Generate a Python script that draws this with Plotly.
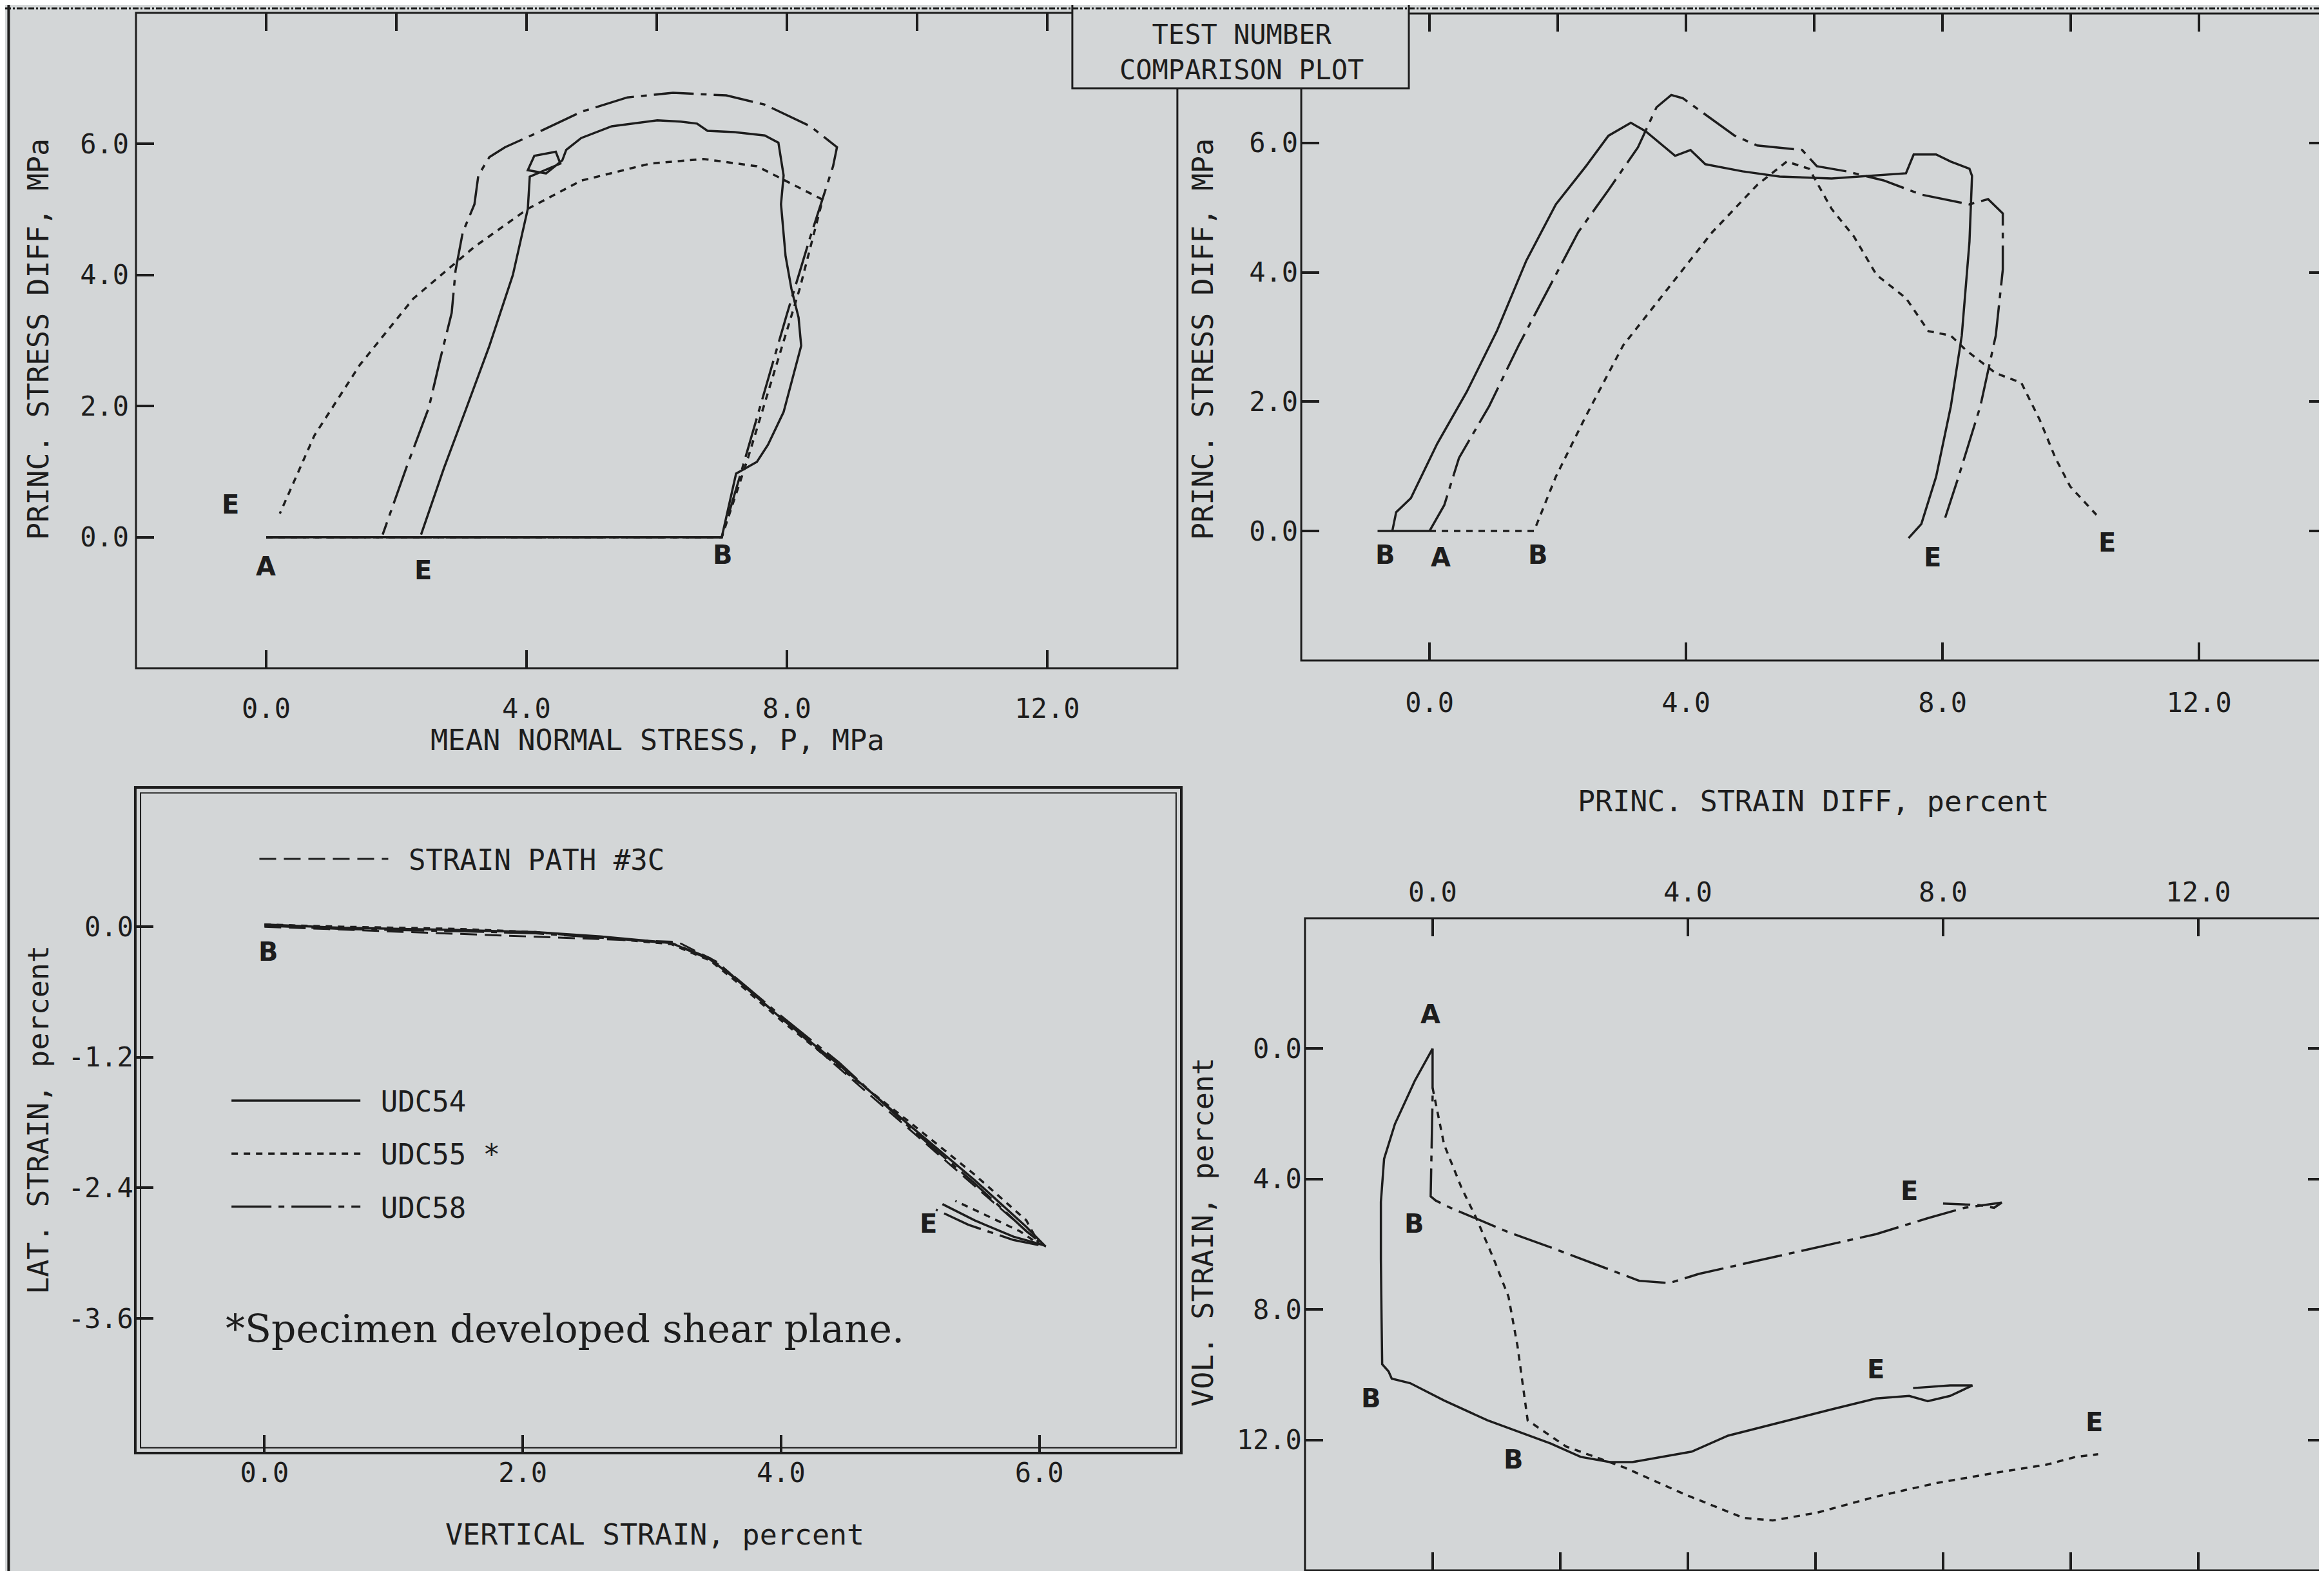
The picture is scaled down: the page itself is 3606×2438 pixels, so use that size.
import plotly.graph_objects as go

# ---------------- data ----------------
# Top-left: principal stress difference vs mean normal stress (MPa)
tl54_x = [0.0, 7.0, 7.22, 7.54, 7.71, 7.95, 8.22, 8.18, 8.07, 7.98, 7.91, 7.95, 7.87, 7.66, 7.19, 6.78, 6.62, 6.37,
          6.01, 5.31, 4.84, 4.61, 4.55, 4.3, 4.02, 4.12, 4.45, 4.52, 4.05, 4.02, 3.79, 3.43, 3.08, 2.73, 2.38]
tl54_y = [0.0, 0.0, 0.97, 1.15, 1.41, 1.91, 2.92, 3.35, 3.79, 4.29, 5.08, 5.52, 6.02, 6.13, 6.18, 6.20, 6.31, 6.34,
          6.36, 6.27, 6.09, 5.91, 5.75, 5.55, 5.6, 5.82, 5.88, 5.7, 5.5, 5.01, 4.0, 2.92, 1.98, 1.05, 0.04]
tl55_x = [0.0, 7.0, 7.4, 7.8, 8.2, 8.55, 8.12, 7.54, 6.72, 5.9, 4.84, 4.02, 3.2, 2.26, 1.44, 0.74, 0.21]
tl55_y = [0.0, 0.0, 1.2, 2.5, 3.8, 5.15, 5.37, 5.66, 5.77, 5.7, 5.44, 5.01, 4.43, 3.64, 2.63, 1.55, 0.36]
tl58_x = [0.0, 7.0, 7.3, 7.65, 8.0, 8.35, 8.71, 8.77, 8.36, 7.66, 7.07, 6.25, 5.55, 4.84, 4.14, 3.67, 3.43, 3.26,
          3.2, 3.02, 2.91, 2.85, 2.67, 2.5, 2.15, 1.79]
tl58_y = [0.0, 0.0, 1.0, 2.2, 3.4, 4.55, 5.66, 5.95, 6.27, 6.6, 6.74, 6.78, 6.71, 6.49, 6.16, 5.95, 5.8, 5.52,
          5.08, 4.65, 4.07, 3.42, 2.7, 1.98, 1.05, 0.04]

# Top-right: principal stress difference (MPa) vs principal strain difference (percent)
tr54_x = [0.0, -0.81, -0.58, -0.52, -0.29, 0.12, 0.58, 1.05, 1.51, 1.97, 2.44, 2.79, 3.14, 3.37, 3.83, 4.07, 4.3,
          4.88, 5.46, 6.27, 7.43, 7.55, 7.9, 8.13, 8.42, 8.46, 8.42, 8.3, 8.13, 7.9, 7.67, 7.47]
tr54_y = [0.0, 0.0, 0.0, 0.29, 0.51, 1.35, 2.15, 3.09, 4.18, 5.05, 5.64, 6.11, 6.31, 6.18, 5.8, 5.89, 5.67,
          5.56, 5.48, 5.45, 5.53, 5.82, 5.82, 5.71, 5.6, 5.49, 4.47, 3.02, 1.93, 0.84, 0.11, -0.11]
tr55_x = [0.0, 1.63, 1.97, 2.44, 3.02, 3.72, 4.41, 5.11, 5.57, 5.92, 6.27, 6.62, 6.97, 7.43, 7.78, 8.13, 8.36,
          8.83, 9.23, 9.52, 9.76, 9.99, 10.4]
tr55_y = [0.0, 0.0, 0.84, 1.78, 2.87, 3.75, 4.62, 5.35, 5.71, 5.6, 4.98, 4.55, 3.96, 3.6, 3.09, 3.02, 2.8,
          2.44, 2.29, 1.71, 1.13, 0.69, 0.25]
tr58_x = [0.0, 0.23, 0.46, 0.93, 1.39, 1.86, 2.32, 2.79, 3.25, 3.54, 3.77, 3.95, 4.41, 4.76, 5.11, 5.81, 6.04,
          6.5, 7.08, 7.67, 8.42, 8.71, 8.94, 8.94, 8.83, 8.59, 8.25, 8.01]
tr58_y = [0.0, 0.4, 1.13, 1.93, 2.87, 3.75, 4.62, 5.27, 5.93, 6.55, 6.74, 6.69, 6.36, 6.11, 5.96, 5.89, 5.64,
          5.56, 5.42, 5.2, 5.05, 5.13, 4.91, 4.04, 3.02, 1.93, 0.84, 0.11]

# Bottom-left: lateral strain vs vertical strain (percent)
bl_path_x = [0.0, 3.2, 3.5, 6.0]
bl_path_y = [0.0, -0.14, -0.32, -2.9]
bl54_x = [0.0, 0.6, 1.5, 2.1, 2.6, 3.15, 3.45, 3.65, 4.0, 4.45, 5.0, 5.5, 5.9, 6.04, 5.8, 5.5, 5.25]
bl54_y = [0.02, -0.01, -0.03, -0.05, -0.09, -0.15, -0.30, -0.48, -0.84, -1.27, -1.83, -2.33, -2.76, -2.93, -2.85, -2.70, -2.55]
bl55_x = [0.0, 0.6, 1.5, 2.1, 2.6, 3.15, 3.45, 3.65, 4.0, 4.45, 5.0, 5.5, 5.9, 6.0, 5.85, 5.6, 5.35]
bl55_y = [0.02, 0.0, -0.02, -0.05, -0.10, -0.16, -0.31, -0.50, -0.86, -1.29, -1.80, -2.28, -2.70, -2.92, -2.80, -2.66, -2.52]
bl58_x = [0.0, 0.6, 1.5, 2.1, 2.6, 3.15, 3.45, 3.65, 4.0, 4.45, 5.0, 5.5, 5.9, 6.05, 5.8, 5.45, 5.2]
bl58_y = [0.01, -0.02, -0.04, -0.06, -0.10, -0.15, -0.29, -0.47, -0.82, -1.25, -1.85, -2.36, -2.80, -2.94, -2.88, -2.74, -2.60]

# Bottom-right: volumetric strain vs principal strain difference (percent)
br54_x = [0.0, -0.28, -0.59, -0.76, -0.81, -0.81, -0.8, -0.79, -0.69, -0.64, -0.35, 0.18, 0.86, 1.85, 2.32, 2.78,
          3.13, 3.59, 4.06, 4.63, 5.45, 6.26, 6.95, 7.47, 7.76, 8.11, 8.46, 8.11, 7.53]
br54_y = [0.0, 0.99, 2.31, 3.38, 4.7, 6.46, 8.22, 9.68, 9.9, 10.12, 10.26, 10.79, 11.4, 12.11, 12.52, 12.68,
          12.68, 12.52, 12.36, 11.87, 11.46, 11.06, 10.73, 10.65, 10.81, 10.65, 10.33, 10.33, 10.41]
br55_x = [0.0, 0.18, 0.45, 0.69, 0.96, 1.19, 1.33, 1.49, 2.09, 3.01, 3.94, 4.87, 5.33, 6.03, 6.95, 7.88, 8.81,
          9.62, 10.08, 10.43]
br55_y = [1.2, 2.94, 4.25, 5.22, 6.46, 7.61, 9.11, 11.4, 12.2, 12.85, 13.66, 14.39, 14.47, 14.23, 13.74, 13.33, 13.01,
          12.76, 12.52, 12.44]
br58_x = [0.0, 0.0, -0.03, 0.05, 0.28, 1.19, 1.87, 2.64, 3.24, 3.71, 4.17, 5.1, 6.03, 6.95, 7.76, 8.34, 8.92,
          8.8, 8.57, 8.0]
br58_y = [0.0, 1.5, 4.53, 4.66, 4.88, 5.63, 6.11, 6.68, 7.12, 7.19, 6.91, 6.5, 6.1, 5.69, 5.2, 4.88, 4.72,
          4.88, 4.8, 4.75]

# point labels (text, x, y) per panel
tl_labels = [("E", -0.55, 0.5), ("A", 0.0, -0.45), ("E", 2.41, -0.5), ("B", 7.02, -0.27)]
tr_labels = [("B", -0.69, -0.37), ("A", 0.18, -0.41), ("B", 1.69, -0.37), ("E", 7.84, -0.41), ("E", 10.57, -0.18)]
bl_labels = [("B", 0.03, -0.23), ("E", 5.14, -2.73)]
br_labels = [("A", -0.03, -1.06), ("B", -0.29, 5.37), ("B", -0.96, 10.73), ("B", 1.27, 12.6),
             ("E", 7.47, 4.36), ("E", 6.95, 9.84), ("E", 10.37, 11.46)]

series_names = ["UDC54", "UDC55 *", "UDC58"]
path_name = "STRAIN PATH #3C"
tick_major = [0, 4, 8, 12]
tick_minor = [0, 2, 4, 6, 8, 10, 12]
tick_stress = [0, 2, 4, 6]
tick_vol = [0, 4, 8, 12]
tick_bl_x = [0, 2, 4, 6]
tick_bl_y = [0, -1.2, -2.4, -3.6]
tick_bl_y_text = ["0.0", "-1.2", "-2.4", "-3.6"]

# ---------------- style ----------------
BG = "#d3d6d7"
INK = "#1d1d1d"
MONO = "DejaVu Sans Mono"
W, H = 3606, 2438
LW = 3.5
DASH = {"UDC54": "solid", "UDC55 *": "10px,9px", "UDC58": "62px,11px,9px,11px"}

fig = go.Figure()


def add(xs, ys, name, xa, ya, legend=False, group=None):
    fig.add_trace(go.Scatter(
        x=xs, y=ys, mode="lines", name=" " + name, xaxis=xa, yaxis=ya,
        line=dict(color=INK, width=LW, dash=DASH[name]),
        showlegend=legend, legendgroup=group, hoverinfo="skip"))


# every panel keeps traces on its main axis pair; some traces also go through the
# overlaying axes (same ranges, so same geometry) that carry the extra tick rows
add(tl54_x, tl54_y, series_names[0], "x", "y")
add(tl55_x, tl55_y, series_names[1], "x5", "y")
add(tl58_x, tl58_y, series_names[2], "x", "y")
add(tr54_x, tr54_y, series_names[0], "x2", "y2")
add(tr55_x, tr55_y, series_names[1], "x6", "y2")
add(tr58_x, tr58_y, series_names[2], "x2", "y6")
add(br54_x, br54_y, series_names[0], "x4", "y4")
add(br55_x, br55_y, series_names[1], "x7", "y4")
add(br58_x, br58_y, series_names[2], "x4", "y7")
add(bl54_x, bl54_y, series_names[0], "x3", "y3", True, "g54")
add(bl55_x, bl55_y, series_names[1], "x3", "y3", True, "g55")
add(bl58_x, bl58_y, series_names[2], "x3", "y3", True, "g58")
fig.add_trace(go.Scatter(
    x=bl_path_x, y=bl_path_y, mode="lines", name=" " + path_name, xaxis="x3", yaxis="y3",
    line=dict(color=INK, width=3, dash="26px,12px"), showlegend=True, legend="legend2",
    hoverinfo="skip"))

TICKFONT = dict(family=MONO, size=42, color=INK)


def ax(**kw):
    d = dict(showgrid=False, zeroline=False, showline=False, ticks="inside", ticklen=28, tickwidth=4,
             tickcolor=INK, tickfont=TICKFONT, tickformat=".1f", layer="above traces")
    d.update(kw)
    return d


R_X = [-2, 14]
R_S = [-2, 8]
R_V = [16, -4]

fig.update_layout(
    width=W, height=H, margin=dict(l=0, r=0, t=0, b=0),
    paper_bgcolor=BG, plot_bgcolor="rgba(0,0,0,0)",
    # top-left
    xaxis=ax(domain=[0.0563, 0.5044], range=R_X, anchor="y", side="top", tickvals=tick_minor,
             showticklabels=False),
    xaxis5=ax(overlaying="x", side="bottom", anchor="y", range=R_X, tickvals=tick_major,
              ticklabelstandoff=34),
    yaxis=ax(domain=[0.5779, 0.9951], range=R_S, anchor="x", tickvals=tick_stress, ticklabelstandoff=10),
    # top-right
    xaxis2=ax(domain=[0.5577, 0.9992], range=R_X, anchor="y2", side="top", tickvals=tick_minor,
              showticklabels=False),
    xaxis6=ax(overlaying="x2", side="bottom", anchor="y2", range=R_X, tickvals=tick_major,
              ticklabelstandoff=37),
    yaxis2=ax(domain=[0.5829, 0.9947], range=R_S, anchor="x2", tickvals=tick_stress, ticklabelstandoff=4),
    yaxis6=ax(overlaying="y2", side="right", anchor="x2", range=R_S, tickvals=tick_stress,
              showticklabels=False),
    # bottom-left
    xaxis3=ax(domain=[0.0560, 0.5061], range=[-1, 7.1], anchor="y3", tickvals=tick_bl_x, ticklabelstandoff=2),
    yaxis3=ax(domain=[0.0783, 0.5020], range=[-4.84, 1.28], anchor="x3", tickvals=tick_bl_y,
              ticktext=tick_bl_y_text, ticklabelstandoff=2),
    # bottom-right
    xaxis4=ax(domain=[0.5593, 0.9986], range=R_X, anchor="y4", side="top", tickvals=tick_major,
              ticklabelstandoff=17),
    yaxis4=ax(domain=[0.0037, 0.4188], range=R_V, anchor="x4", tickvals=tick_vol, ticklabelstandoff=4),
    xaxis7=ax(overlaying="x4", side="bottom", anchor="y4", range=R_X, tickvals=tick_minor,
              showticklabels=False),
    yaxis7=ax(overlaying="y4", side="right", anchor="x4", range=R_V, tickvals=tick_vol,
              showticklabels=False),
    legend=dict(x=0.096, y=0.2689, xanchor="left", yanchor="middle", bgcolor="rgba(0,0,0,0)",
                font=dict(family=MONO, size=44, color=INK), itemwidth=200, tracegroupgap=22,
                traceorder="grouped"),
    legend2=dict(x=0.108, y=0.4565, xanchor="left", yanchor="middle", bgcolor="rgba(0,0,0,0)",
                 font=dict(family=MONO, size=44, color=INK), itemwidth=200),
)

# point labels
LABELFONT = dict(family="DejaVu Sans", size=40, color=INK)
for labels, xr, yr in [(tl_labels, "x", "y"), (tr_labels, "x2", "y2"),
                       (bl_labels, "x3", "y3"), (br_labels, "x4", "y4")]:
    for t, lx, ly in labels:
        fig.add_annotation(x=lx, y=ly, xref=xr, yref=yr, text="<b>%s</b>" % t, showarrow=False,
                           xanchor="center", yanchor="middle", font=LABELFONT)

TITLEFONT = dict(family=MONO, size=45, color=INK)
titles = [
    ("MEAN NORMAL STRESS, P, MPa", 0.2806, 0.5320, 0),
    ("PRINC. STRESS DIFF, MPa", 0.0141, 0.7875, -90),
    ("PRINC. STRESS DIFF, MPa", 0.5152, 0.7875, -90),
    ("PRINC. STRAIN DIFF, percent", 0.7782, 0.4934, 0),
    ("LAT. STRAIN, percent", 0.0141, 0.2904, -90),
    ("VERTICAL STRAIN, percent", 0.2795, 0.0263, 0),
    ("VOL. STRAIN, percent", 0.5152, 0.2190, -90),
]
for t, x, y, a in titles:
    fig.add_annotation(x=x, y=y, xref="paper", yref="paper", text=t, showarrow=False,
                       xanchor="center", yanchor="middle", textangle=a, font=TITLEFONT)

fig.add_annotation(x=0.5319, y=0.9700, xref="paper", yref="paper", xanchor="center", yanchor="middle",
                   text="TEST NUMBER<br>COMPARISON PLOT", showarrow=False,
                   font=dict(family=MONO, size=42, color=INK))

fig.add_annotation(x=0.0943, y=0.1575, xref="paper", yref="paper", xanchor="left", yanchor="middle",
                   text="*Specimen developed shear plane.", showarrow=False,
                   font=dict(family="DejaVu Serif", size=60, color=INK))

# panel frames
for xr, yr, w in [("x", "y", 3), ("x2", "y2", 3), ("x3", "y3", 4), ("x4", "y4", 3)]:
    fig.add_shape(type="rect", xref=xr + " domain", yref=yr + " domain", x0=0, x1=1, y0=0, y1=1,
                  line=dict(color=INK, width=w))
# inner line of the double frame of the lower-left panel
fig.add_shape(type="rect", xref="x3 domain", yref="y3 domain", x0=0.005, x1=0.995, y0=0.008, y1=0.992,
              line=dict(color=INK, width=2))
# title box and page frame
fig.add_shape(type="rect", xref="paper", yref="paper", x0=0.4592, x1=0.6040, y0=0.9471, y1=1.02,
              line=dict(color=INK, width=3), fillcolor=BG, layer="above")
fig.add_shape(type="line", xref="paper", yref="paper", x0=0.0015, x1=0.0015, y0=0, y1=1,
              line=dict(color=INK, width=4))
fig.add_shape(type="line", xref="paper", yref="paper", x0=0, x1=1, y0=0.998, y1=0.998,
              line=dict(color=INK, width=3, dash="dashdot"))
fig.add_shape(type="line", xref="paper", yref="paper", x0=0, x1=0.56, y0=0.0025, y1=0.0025,
              line=dict(color=INK, width=3, dash="dash"))

fig.write_html("out.html")
